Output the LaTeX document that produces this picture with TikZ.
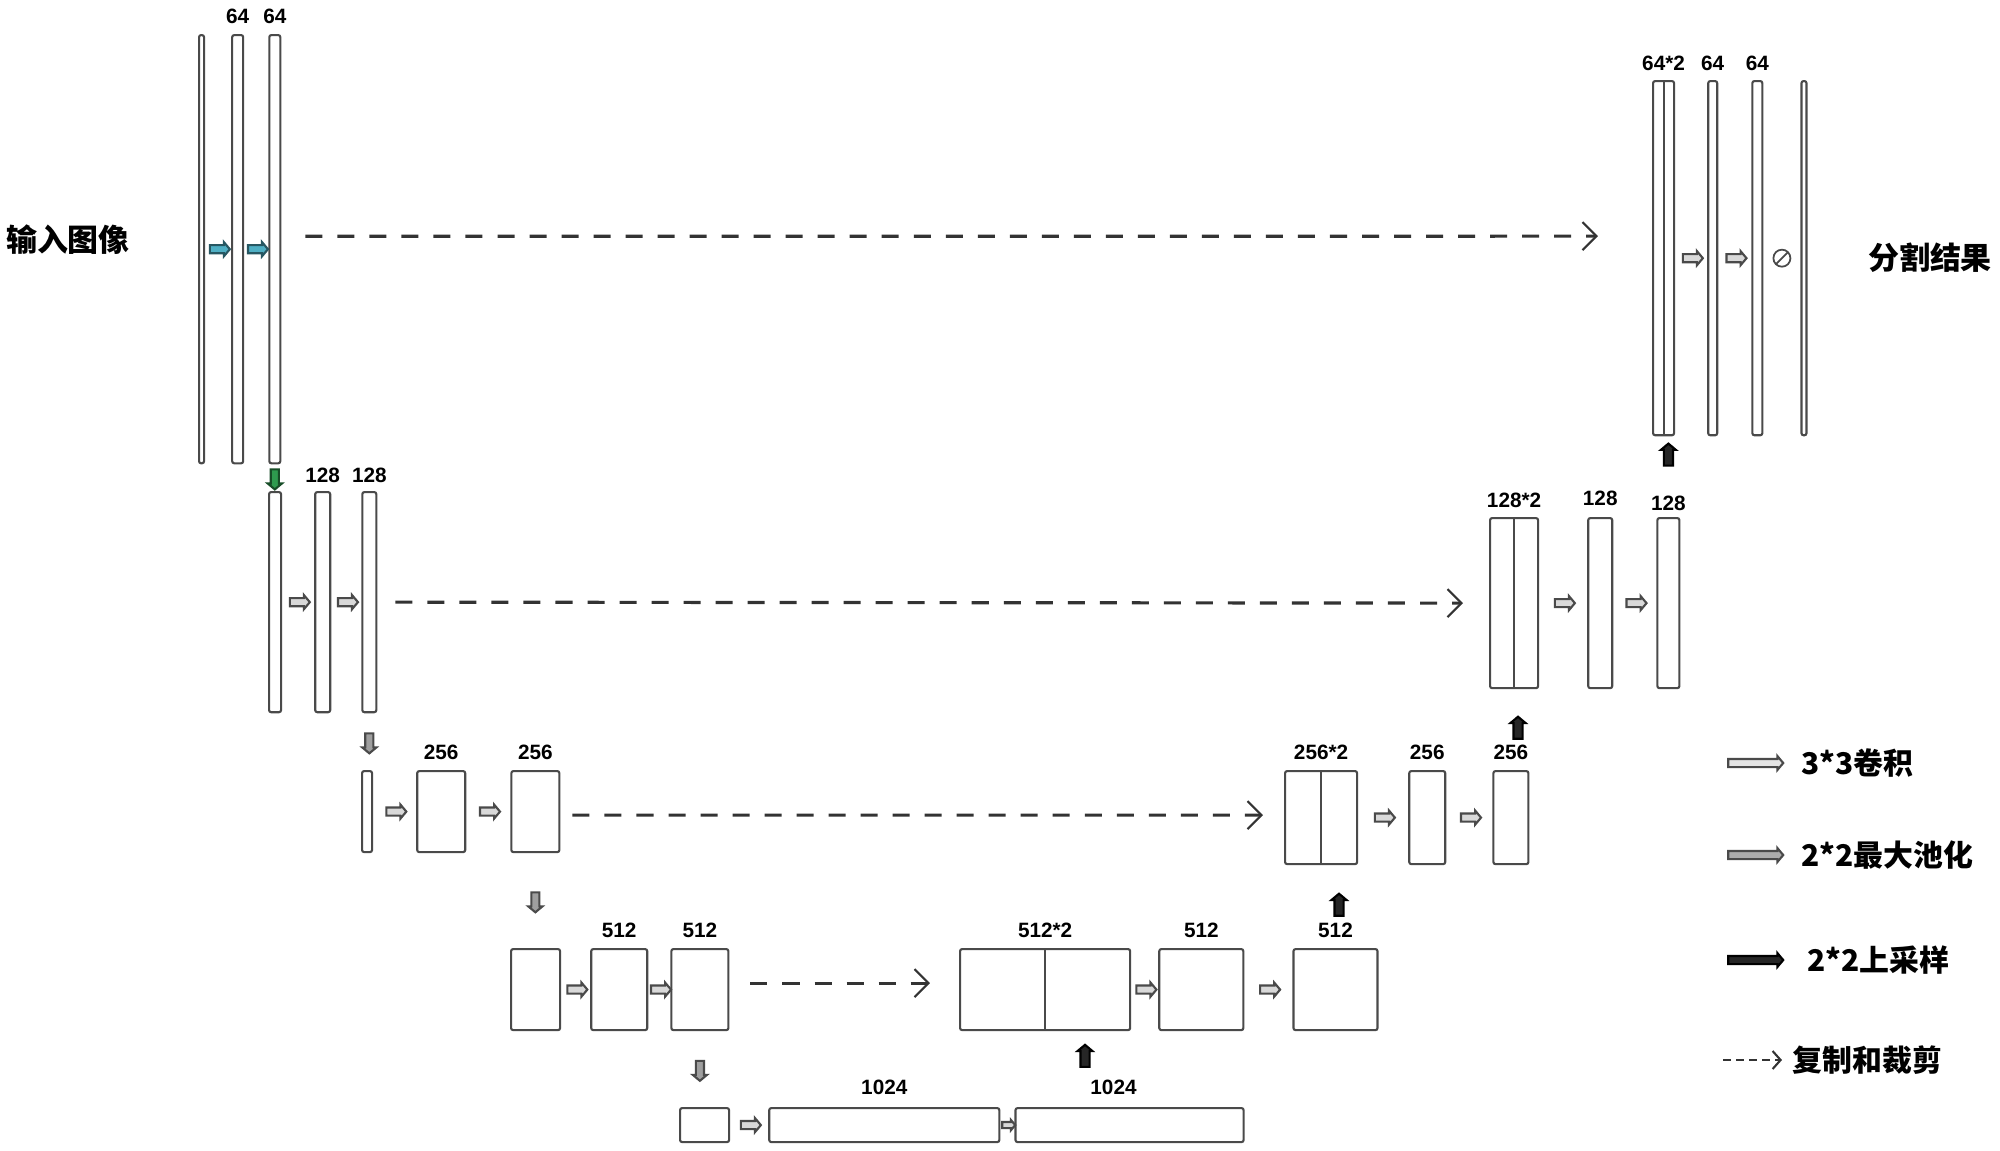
\documentclass[tikz,border=0pt]{standalone}
\usepackage{fontspec}
\newfontfamily\cjk{Noto Sans CJK SC}
\newfontfamily\numfont{Liberation Sans}
\usetikzlibrary{arrows.meta, positioning, calc, shapes.arrows}
\definecolor{edge}{HTML}{4A4A4A}
\definecolor{cyanfill}{HTML}{4FAFC4}
\definecolor{greenfill}{HTML}{2E9B4E}
\tikzset{
  fmap/.style    ={draw=edge, line width=0.6pt, rounded corners=0.6pt, inner sep=0pt},
  div/.style     ={draw=edge, line width=0.6pt},
  num/.style     ={font=\numfont\bfseries\fontsize{5.9}{6}\selectfont, inner sep=0pt},
  cn/.style      ={font=\cjk\bfseries\fontsize{8.8}{10}\selectfont, inner sep=0pt},
  lgd/.style     ={font=\cjk\bfseries\fontsize{8.5}{10}\selectfont, inner sep=0pt, anchor=west},
  blk/.style     ={single arrow, draw=edge, line width=0.6pt, inner xsep=0pt, inner ysep=0.03cm,
                   minimum height=0.2cm, single arrow head extend=0.03cm,
                   single arrow tip angle=100},
  convarr/.style ={blk, fill=gray!30},
  cyanarr/.style ={blk, fill=cyanfill, draw=cyanfill!50!black},
  poolarr/.style ={blk, fill=gray!75, rotate=-90},
  greenarr/.style={blk, fill=greenfill, draw=greenfill!50!black, rotate=-90},
  uparr/.style   ={blk, fill=black!85, draw=black, rotate=90,
                   minimum height=0.22cm, inner ysep=0.035cm},
  sgm/.style     ={circle, draw=edge, line width=0.5pt, minimum size=0.17cm, inner sep=0pt,
                   path picture={\draw[edge, line width=0.5pt]
                     (path picture bounding box.south west) -- (path picture bounding box.north east);}},
  crop/.style    ={draw=black!80, line width=0.9pt, dash pattern=on 1.7mm off 1.5mm,
                   -{Straight Barb[length=1.4mm, width=2.8mm, line width=0.6pt]}},
}
\begin{document}
\begin{tikzpicture}[x=0.01cm, y=-0.01cm]
  \useasboundingbox (0,0) rectangle (2000,1150);

  % encoder, 64
  \node[fmap, minimum width=0.05cm, minimum height=4.28cm, anchor=north west] (a1) at (198,34) {};
  \node[fmap, minimum width=0.11cm, minimum height=4.28cm, right=0.26cm of a1] (a2) {};
  \node[fmap, minimum width=0.11cm, minimum height=4.28cm, right=0.24cm of a2] (a3) {};
  \node[num, above=0.1cm of a2] (la2) {64};
  \node[num, above=0.1cm of a3] (la3) {64};
  \node[cn] (tin) at (68,240) {输入图像};
  \path (a1) -- node[cyanarr] (ca1) {} (a2);
  \path (a2) -- node[cyanarr] (ca2) {} (a3);

  % encoder, 128
  \node[fmap, minimum width=0.12cm, minimum height=2.2cm, anchor=north west] (b1) at (268,491) {};
  \node[fmap, minimum width=0.15cm, minimum height=2.2cm, right=0.32cm of b1] (b2) {};
  \node[fmap, minimum width=0.14cm, minimum height=2.2cm, right=0.3cm of b2] (b3) {};
  \node[num, above=0.08cm of b2] (lb2) {128};
  \node[num, above=0.08cm of b3] (lb3) {128};
  \path (a3.south) -- node[greenarr] (pa) {} (a3.south |- b1.north);
  \path (b1) -- node[convarr] (cb1) {} (b2);
  \path (b2) -- node[convarr] (cb2) {} (b3);

  % encoder, 256
  \node[fmap, minimum width=0.1cm, minimum height=0.81cm, anchor=north west] (c1) at (361,770) {};
  \node[fmap, minimum width=0.48cm, minimum height=0.81cm, right=0.43cm of c1] (c2) {};
  \node[fmap, minimum width=0.48cm, minimum height=0.81cm, right=0.44cm of c2] (c3) {};
  \node[num, above=0.1cm of c2] (lc2) {256};
  \node[num, above=0.1cm of c3] (lc3) {256};
  \path (b3.south) -- node[poolarr] (pb) {} (b3.south |- c1.north);
  \path (c1) -- node[convarr] (cc1) {} (c2);
  \path (c2) -- node[convarr] (cc2) {} (c3);

  % encoder, 512
  \node[fmap, minimum width=0.49cm, minimum height=0.81cm, anchor=north west] (d1) at (510,948) {};
  \node[fmap, minimum width=0.56cm, minimum height=0.81cm, right=0.29cm of d1] (d2) {};
  \node[fmap, minimum width=0.57cm, minimum height=0.81cm, right=0.22cm of d2] (d3) {};
  \node[num, above=0.1cm of d2] (ld2) {512};
  \node[num, above=0.1cm of d3] (ld3) {512};
  \path (c3.south) -- node[poolarr] (pc) {} (c3.south |- d1.north);
  \path (d1) -- node[convarr] (cd1) {} (d2);
  \path (d2) -- node[convarr] (cd2) {} (d3);

  % bottom, 1024
  \node[fmap, minimum width=0.49cm, minimum height=0.34cm, anchor=north west] (e1) at (679,1107) {};
  \node[fmap, minimum width=2.3cm, minimum height=0.34cm, right=0.38cm of e1] (e2) {};
  \node[fmap, minimum width=2.28cm, minimum height=0.34cm, right=0.14cm of e2] (e3) {};
  \node[num, above=0.12cm of e2] (le2) {1024};
  \node[num, above=0.12cm of e3, xshift=-0.16cm] (le3) {1024};
  \path (d3.south) -- node[poolarr] (pd) {} (d3.south |- e1.north);
  \path (e1) -- node[convarr] (ce1) {} (e2);
  \path (e2) -- node[convarr, minimum height=0.13cm, inner ysep=0.02cm,
                     single arrow head extend=0.02cm] (ce2) {} (e3);

  % decoder, 512
  \node[fmap, minimum width=1.7cm, minimum height=0.81cm, anchor=north west] (f1) at (959,948) {};
  \node[fmap, minimum width=0.84cm, minimum height=0.81cm, right=0.27cm of f1] (f2) {};
  \node[fmap, minimum width=0.84cm, minimum height=0.81cm, right=0.48cm of f2] (f3) {};
  \draw[div] (f1.north) -- (f1.south);
  \node[num, above=0.1cm of f1] (lf1) {512*2};
  \node[num, above=0.1cm of f2] (lf2) {512};
  \node[num, above=0.1cm of f3] (lf3) {512};
  \path (e3.north -| 1085,0) -- node[uparr, pos=0.65] (ue) {} (f1.south -| 1085,0);
  \path (f1) -- node[convarr] (cf1) {} (f2);
  \path (f2) -- node[convarr] (cf2) {} (f3);

  % decoder, 256
  \node[fmap, minimum width=0.72cm, minimum height=0.93cm, anchor=north west] (g1) at (1284,770) {};
  \node[fmap, minimum width=0.36cm, minimum height=0.93cm, right=0.5cm of g1] (g2) {};
  \node[fmap, minimum width=0.35cm, minimum height=0.93cm, right=0.46cm of g2] (g3) {};
  \draw[div] (g1.north) -- (g1.south);
  \node[num, above=0.1cm of g1] (lg1n) {256*2};
  \node[num, above=0.1cm of g2] (lg2n) {256};
  \node[num, above=0.1cm of g3] (lg3n) {256};
  \path (f3.north -| 1339,0) -- node[uparr] (uf) {} (g1.south -| 1339,0);
  \path (g1) -- node[convarr] (cg1) {} (g2);
  \path (g2) -- node[convarr] (cg2) {} (g3);

  % decoder, 128
  \node[fmap, minimum width=0.48cm, minimum height=1.7cm, anchor=north west] (h1) at (1489,517) {};
  \node[fmap, minimum width=0.24cm, minimum height=1.7cm, right=0.48cm of h1] (h2) {};
  \node[fmap, minimum width=0.22cm, minimum height=1.7cm, right=0.43cm of h2] (h3) {};
  \draw[div] (h1.north) -- (h1.south);
  \node[num, above=0.09cm of h1] (lh1) {128*2};
  \node[num, above=0.11cm of h2] (lh2) {128};
  \node[num, above=0.06cm of h3] (lh3) {128};
  \path (g3.north -| 1518,0) -- node[uparr] (ug) {} (h1.south -| 1518,0);
  \path (h1) -- node[convarr] (ch1) {} (h2);
  \path (h2) -- node[convarr] (ch2) {} (h3);

  % decoder, 64
  \node[fmap, minimum width=0.21cm, minimum height=3.54cm, anchor=north west] (k1) at (1652,80) {};
  \node[fmap, minimum width=0.09cm, minimum height=3.54cm, right=0.32cm of k1] (k2) {};
  \node[fmap, minimum width=0.1cm, minimum height=3.54cm, right=0.33cm of k2] (k3) {};
  \node[fmap, minimum width=0.05cm, minimum height=3.54cm, right=0.37cm of k3] (k4) {};
  \draw[div] (k1.north) -- (k1.south);
  \node[num, above=0.09cm of k1] (lk1) {64*2};
  \node[num, above=0.09cm of k2] (lk2) {64};
  \node[num, above=0.09cm of k3] (lk3) {64};
  \node[cn] (tout) at (1930,258) {分割结果};
  \path (h3.north) -- node[uparr, pos=0.75] (uh) {} (h3.north |- k1.south);
  \path (k1) -- node[convarr] (ck1) {} (k2);
  \path (k2) -- node[convarr] (ck2) {} (k3);
  \path (k3) -- node[sgm] (sg) {} (k4);

  % copy and crop
  \draw[crop] ([xshift=0.24cm, yshift=0.13cm]a3.east) -- ([xshift=-0.54cm, yshift=0.22cm]k1.west);
  \draw[crop] ([xshift=0.18cm]b3.east) -- ([xshift=-0.26cm]h1.west);
  \draw[crop] ([xshift=0.12cm, yshift=-0.035cm]c3.east) -- ([xshift=-0.21cm, yshift=0.025cm]g1.west);
  \draw[crop] ([xshift=0.21cm, yshift=0.065cm]d3.east) -- ([xshift=-0.29cm, yshift=0.065cm]f1.west);

  % legend
  \node[blk, fill=gray!20, minimum height=0.55cm, inner ysep=0.03cm,
        single arrow head extend=0.03cm] (lg1) at (1754,763) {};
  \node[lgd, right=0.16cm of lg1] (lt1) {3*3卷积};
  \node[blk, fill=gray!65, minimum height=0.55cm, inner ysep=0.03cm,
        single arrow head extend=0.03cm] (lg2) at (1754,855) {};
  \node[lgd, right=0.16cm of lg2] (lt2) {2*2最大池化};
  \node[blk, fill=black!85, draw=black, minimum height=0.55cm, inner ysep=0.03cm,
        single arrow head extend=0.03cm] (lg3) at (1754,960) {};
  \node[lgd, right=0.22cm of lg3] (lt3) {2*2上采样};
  \coordinate (lg4a) at (1723,1060);
  \coordinate (lg4b) at (1782,1060);
  \draw[crop, line width=0.7pt, dash pattern=on 0.8mm off 0.5mm,
        -{Straight Barb[length=0.8mm, width=1.8mm, line width=0.6pt]}] (lg4a) -- (lg4b);
  \node[lgd, right=0.1cm of lg4b] (lt4) {复制和裁剪};
\end{tikzpicture}
\end{document}
